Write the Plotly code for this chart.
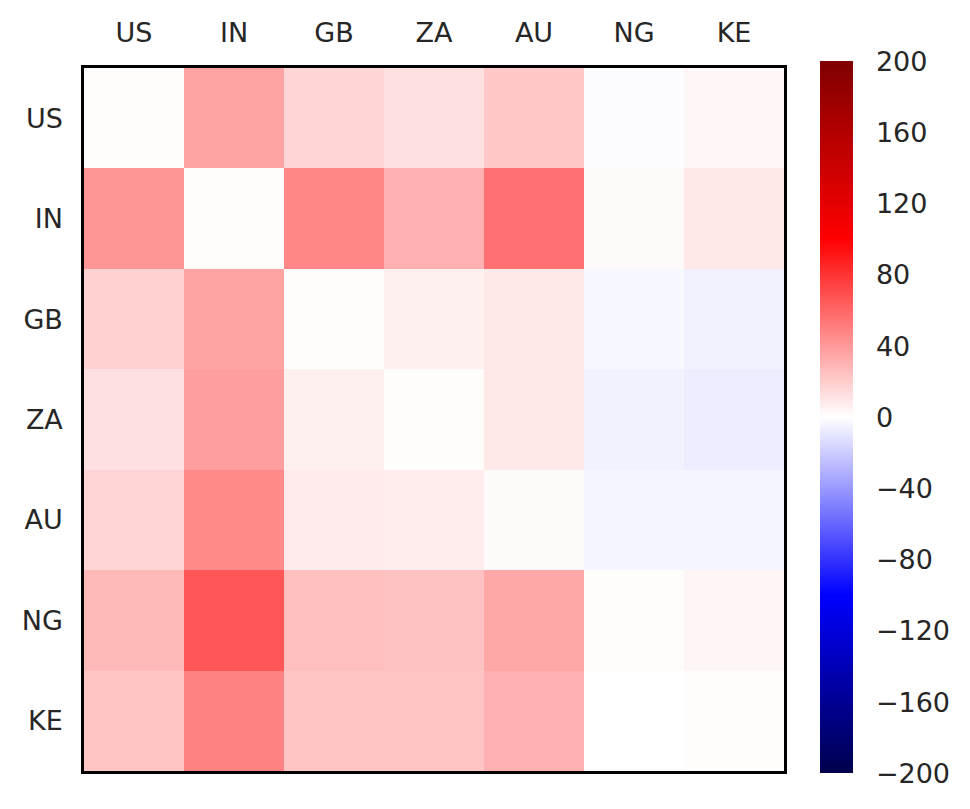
import plotly.graph_objects as go

# country codes (rows = columns)
countries = ["US", "IN", "GB", "ZA", "AU", "NG", "KE"]

row_us = [1, 36, 16, 12, 21, -1, 3]
row_in = [41, 1, 47, 31, 56, 2, 9]
row_gb = [18, 36, 1, 6, 9, -3, -5]
row_za = [12, 38, 6, 1, 9, -5, -7]
row_au = [17, 46, 8, 7, 2, -4, -4]
row_ng = [28, 66, 25, 24, 34, 1, 4]
row_ke = [23, 49, 23, 23, 31, 0, 1]
z = [row_us, row_in, row_gb, row_za, row_au, row_ng, row_ke]

cbar_ticks = [-200, -160, -120, -80, -40, 0, 40, 80, 120, 160, 200]

# matplotlib "seismic"
seismic = [
    [0.0, "rgb(0,0,77)"],
    [0.25, "rgb(0,0,255)"],
    [0.5, "rgb(255,255,255)"],
    [0.75, "rgb(255,0,0)"],
    [1.0, "rgb(128,0,0)"],
]

txt = "#262626"
fnt = "DejaVu Sans"

fig = go.Figure(go.Heatmap(
    z=z, x=countries, y=countries,
    colorscale=seismic, zmin=-200, zmax=200,
    colorbar=dict(
        x=1.051, xanchor="left", xpad=0, ypad=0, thickness=33,
        lenmode="pixels", len=712, y=0.503, yanchor="middle",
        tickvals=cbar_ticks, ticktext=[str(t).replace("-", "\u2212") for t in cbar_ticks],
        ticks="outside", ticklen=18, tickcolor="rgba(0,0,0,0)", outlinewidth=0,
        tickfont=dict(family=fnt, size=27, color=txt),
    ),
    hoverongaps=False,
))

fig.update_xaxes(side="top", showgrid=False, zeroline=False, ticks="",
                 tickfont=dict(family=fnt, size=27, color=txt),
                 showline=True, linecolor="black", linewidth=2.5, mirror=True,
                 ticklabelstandoff=12, automargin=False)
fig.update_yaxes(autorange="reversed", showgrid=False, zeroline=False, ticks="",
                 tickfont=dict(family=fnt, size=27, color=txt),
                 showline=True, linecolor="black", linewidth=2.5, mirror=True,
                 ticklabelstandoff=13, automargin=False)

fig.update_layout(
    width=970, height=809,
    margin=dict(l=76, r=194, t=60, b=46),
    paper_bgcolor="white", plot_bgcolor="white",
    font=dict(family=fnt, color=txt),
)

fig.write_html("out.html")
